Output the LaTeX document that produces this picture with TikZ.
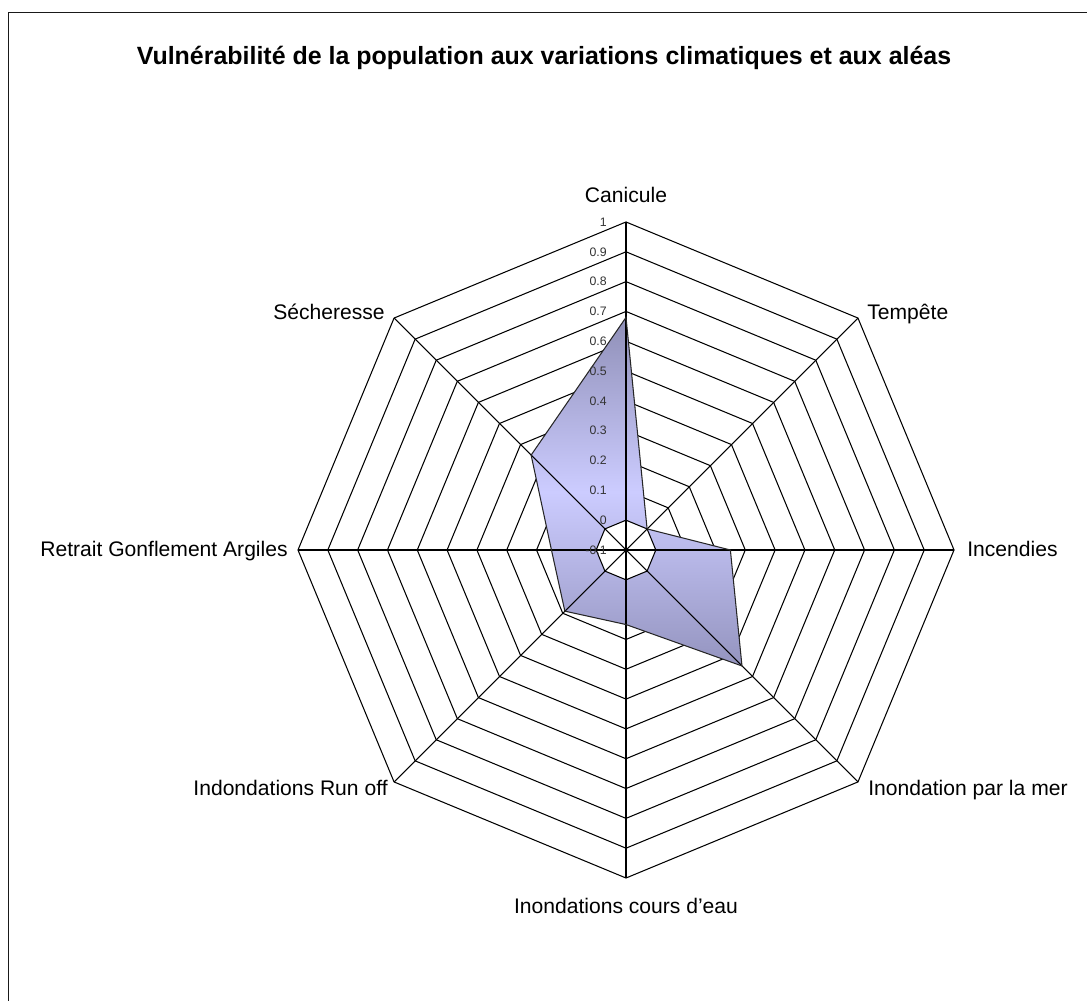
\documentclass[tikz,border=0pt]{standalone}
\usepackage{fontspec}
\setmainfont{Liberation Sans}
\definecolor{areatop}{HTML}{8F8FB7}
\definecolor{areamid}{HTML}{CCCCFF}
\definecolor{areabot}{HTML}{9494BF}
\tikzset{
  gridline/.style={black,line width=0.6pt},
  axislabel/.style={font=\fontsize{12}{14}\selectfont,inner sep=0pt},
  ticklabel/.style={font=\fontsize{7}{8}\selectfont,text=black!80,inner sep=0pt,anchor=east},
}

\begin{document}
\begin{tikzpicture}[x=0.02cm,y=0.02cm]
    \useasboundingbox (0,0) rectangle (1087,1000);
    \draw[black!90,line width=1.1pt] (8.5,-20) -- (8.5,987.5) -- (1110,987.5);
    \node[font=\bfseries\fontsize{14.2}{16}\selectfont,anchor=base] (title) at (544,935) {Vulnérabilité de la population aux variations climatiques et aux aléas};
    \node[axislabel,anchor=base] (canicule) at (626,797) {Canicule};
    \node[axislabel,anchor=base west] (tempete) at (867,680) {Tempête};
    \node[axislabel,anchor=base west] (incendies) at (967,443) {Incendies};
    \node[axislabel,anchor=base west] (mer) at (868,205) {Inondation par la mer};
    \node[axislabel,anchor=base] (coursdeau) at (626,87) {Inondations cours d'eau};
    \node[axislabel,anchor=base east] (runoff) at (388,205) {Indondations Run off};
    \node[axislabel,anchor=base east] (retrait) at (288,443) {Retrait Gonflement Argiles};
    \node[axislabel,anchor=base east] (secheresse) at (385,680) {Sécheresse};
    \begin{scope}[shift={(626,450)}]
        \coordinate (C) at (0,0);
        \foreach \k [evaluate=\k as \r using \k*29.82] in {2,...,11}
            \draw[gridline] (0:\r) \foreach \a in {45,90,...,315} { -- (\a:\r) } -- cycle;
        \foreach \v [count=\i from 0,evaluate=\i as \a using 90-45*\i] in {0.68,0,0.25,0.45,0.15,0.19,0.15,0.35}
            \coordinate (d\i) at (\a:{(\v+0.1)*298.2});
        \shade[top color=areatop,bottom color=areabot,middle color=areamid] (d0) -- (d1) -- (d2) -- (d3) -- (d4) -- (d5) -- (d6) -- (d7) -- cycle;
        \draw[gridline,fill=white] (0:29.82) \foreach \a in {45,90,...,315} { -- (\a:29.82) } -- cycle;
        \foreach \i in {0,...,7} {
            \coordinate (o\i) at (90-45*\i:328);
            \draw[gridline] (C) -- (o\i);
        }
        \draw[black!85,line width=0.6pt] (d0) -- (d1) -- (d2) -- (d3) -- (d4) -- (d5) -- (d6) -- (d7) -- cycle;
        \foreach \t [count=\k from 0] in {-0.1,0,0.1,0.2,0.3,0.4,0.5,0.6,0.7,0.8,0.9,1}
            \node[ticklabel] (tick\k) at (-19,\k*29.82) {\t};
    \end{scope}
\end{tikzpicture}
\end{document}
